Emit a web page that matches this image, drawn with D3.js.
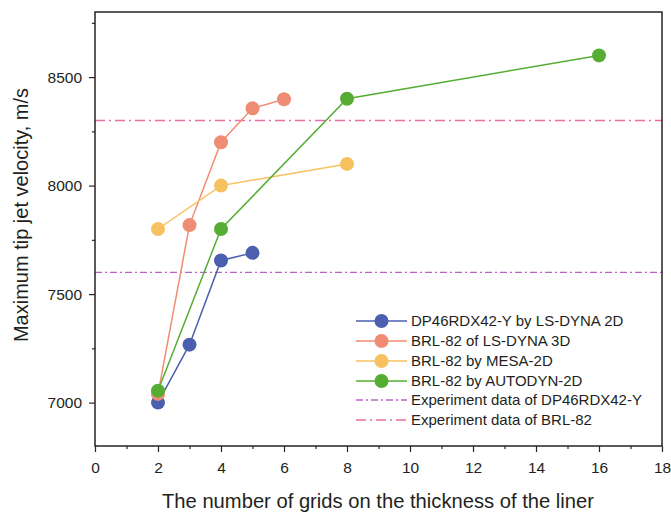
<!DOCTYPE html>
<html>
<head>
<meta charset="utf-8">
<script src="https://cdn.jsdelivr.net/npm/d3@7"></script>
<style>
  html, body { margin: 0; padding: 0; background: #fff; }
  svg { display: block; font-family: "Liberation Sans", Arial, sans-serif; }
</style>
</head>
<body>
<svg id="chart" width="671" height="513"></svg>
<script>
// Simulated maximum tip jet velocity vs. mesh density across the liner thickness
const seriesNames = [
  "DP46RDX42-Y by LS-DYNA 2D",
  "BRL-82 of LS-DYNA 3D",
  "BRL-82 by MESA-2D",
  "BRL-82 by AUTODYN-2D"
];
const seriesColors = ["#4a60ae", "#ef8c74", "#f6c15f", "#55ae33"];

const gridsLsDyna2D = [2, 3, 4, 5];
const velLsDyna2D = [7000, 7267, 7655, 7690];

const gridsLsDyna3D = [2, 3, 4, 5, 6];
const velLsDyna3D = [7040, 7818, 8200, 8356, 8398];

const gridsMesa2D = [2, 4, 8];
const velMesa2D = [7800, 8000, 8100];

const gridsAutodyn2D = [2, 4, 8, 16];
const velAutodyn2D = [7055, 7800, 8400, 8600];

// Measured reference velocities
const experimentNames = ["Experiment data of DP46RDX42-Y", "Experiment data of BRL-82"];
const experimentValues = [7600, 8300];
const experimentColors = ["#b863c4", "#ec6da2"];
const experimentDash = ["7,3,2,3", "10,4,2,4"];

const xTicks = [0, 2, 4, 6, 8, 10, 12, 14, 16, 18];
const xMinorTicks = [1, 3, 5, 7, 9, 11, 13, 15, 17];
const yTicks = [7000, 7500, 8000, 8500];
const yMinorTicks = [7250, 7750, 8250, 8750];

const seriesX = [gridsLsDyna2D, gridsLsDyna3D, gridsMesa2D, gridsAutodyn2D];
const seriesY = [velLsDyna2D, velLsDyna3D, velMesa2D, velAutodyn2D];
const series = seriesNames.map((name, i) => ({
  name, color: seriesColors[i],
  points: seriesX[i].map((x, j) => ({ x, y: seriesY[i][j] }))
}));

const svg = d3.select("#chart");
const W = 671, H = 513;
const margin = { left: 95, right: 9, top: 12, bottom: 67 };
const x = d3.scaleLinear().domain([0, 18]).range([margin.left, W - margin.right]);
const y = d3.scaleLinear().domain([6800, 8800]).range([H - margin.bottom, margin.top]);

const axisColor = "#2a2220";
const textColor = "#231f20";
const tickFont = "15.5px";

// Experiment reference lines
experimentValues.forEach((v, i) => {
  svg.append("line")
    .attr("x1", x(0)).attr("x2", x(18))
    .attr("y1", y(v)).attr("y2", y(v))
    .attr("stroke", experimentColors[i])
    .attr("stroke-width", 1.3)
    .attr("stroke-dasharray", experimentDash[i]);
});

// Series lines and markers
const line = d3.line().x(d => x(d.x)).y(d => y(d.y));
series.forEach(s => {
  svg.append("path")
    .attr("d", line(s.points))
    .attr("fill", "none")
    .attr("stroke", s.color)
    .attr("stroke-width", 1.5);
});
series.forEach(s => {
  svg.selectAll(null).data(s.points).enter().append("circle")
    .attr("cx", d => x(d.x)).attr("cy", d => y(d.y))
    .attr("r", 7)
    .attr("fill", s.color);
});

// Frame
svg.append("rect")
  .attr("x", x(0)).attr("y", y(8800))
  .attr("width", x(18) - x(0)).attr("height", y(6800) - y(8800))
  .attr("fill", "none").attr("stroke", axisColor).attr("stroke-width", 1.5);

// X axis: major and minor ticks
const xAxisG = svg.append("g").attr("transform", `translate(0,${y(6800)})`);
xAxisG.call(d3.axisBottom(x).tickValues(xTicks).tickSize(6).tickPadding(10).tickFormat(d3.format("d")));
xAxisG.append("g").call(d3.axisBottom(x).tickValues(xMinorTicks).tickSize(3).tickFormat(""));
xAxisG.selectAll(".domain").remove();
xAxisG.selectAll("line").attr("stroke", axisColor).attr("stroke-width", 1.2);
xAxisG.selectAll("text").attr("fill", textColor).style("font-size", tickFont).style("font-family", "Liberation Sans, Arial, sans-serif");

// Y axis: major and minor ticks
const yAxisG = svg.append("g").attr("transform", `translate(${x(0)},0)`);
yAxisG.call(d3.axisLeft(y).tickValues(yTicks).tickSize(6).tickPadding(7).tickFormat(d3.format("d")));
yAxisG.append("g").call(d3.axisLeft(y).tickValues(yMinorTicks).tickSize(3).tickFormat(""));
yAxisG.selectAll(".domain").remove();
yAxisG.selectAll("line").attr("stroke", axisColor).attr("stroke-width", 1.2);
yAxisG.selectAll("text").attr("fill", textColor).style("font-size", tickFont).style("font-family", "Liberation Sans, Arial, sans-serif");

// Axis titles
svg.append("text")
  .attr("x", 378).attr("y", 508)
  .attr("text-anchor", "middle")
  .attr("fill", textColor)
  .style("font-size", "20.2px")
  .text("The number of grids on the thickness of the liner");

svg.append("text")
  .attr("transform", `translate(28,215) rotate(-90)`)
  .attr("text-anchor", "middle")
  .attr("fill", textColor)
  .style("font-size", "20px")
  .text("Maximum tip jet velocity, m/s");

// Legend
const legend = svg.append("g");
const rowY = [321, 341, 361, 381, 400, 420];
const lx0 = 356, lx1 = 407, tx = 411;
series.forEach((s, i) => {
  legend.append("line").attr("x1", lx0).attr("x2", lx1).attr("y1", rowY[i]).attr("y2", rowY[i])
    .attr("stroke", s.color).attr("stroke-width", 1.5);
  legend.append("circle").attr("cx", (lx0 + lx1) / 2).attr("cy", rowY[i]).attr("r", 7).attr("fill", s.color);
  legend.append("text").attr("x", tx).attr("y", rowY[i]).attr("dy", "0.35em")
    .attr("fill", textColor).style("font-size", "15px").text(s.name);
});
experimentNames.forEach((name, k) => {
  const yy = rowY[4 + k];
  legend.append("line").attr("x1", lx0).attr("x2", lx1).attr("y1", yy).attr("y2", yy)
    .attr("stroke", experimentColors[k]).attr("stroke-width", 1.3)
    .attr("stroke-dasharray", experimentDash[k]);
  legend.append("text").attr("x", tx).attr("y", yy).attr("dy", "0.35em")
    .attr("fill", textColor).style("font-size", "15px").text(name);
});
</script>
</body>
</html>
